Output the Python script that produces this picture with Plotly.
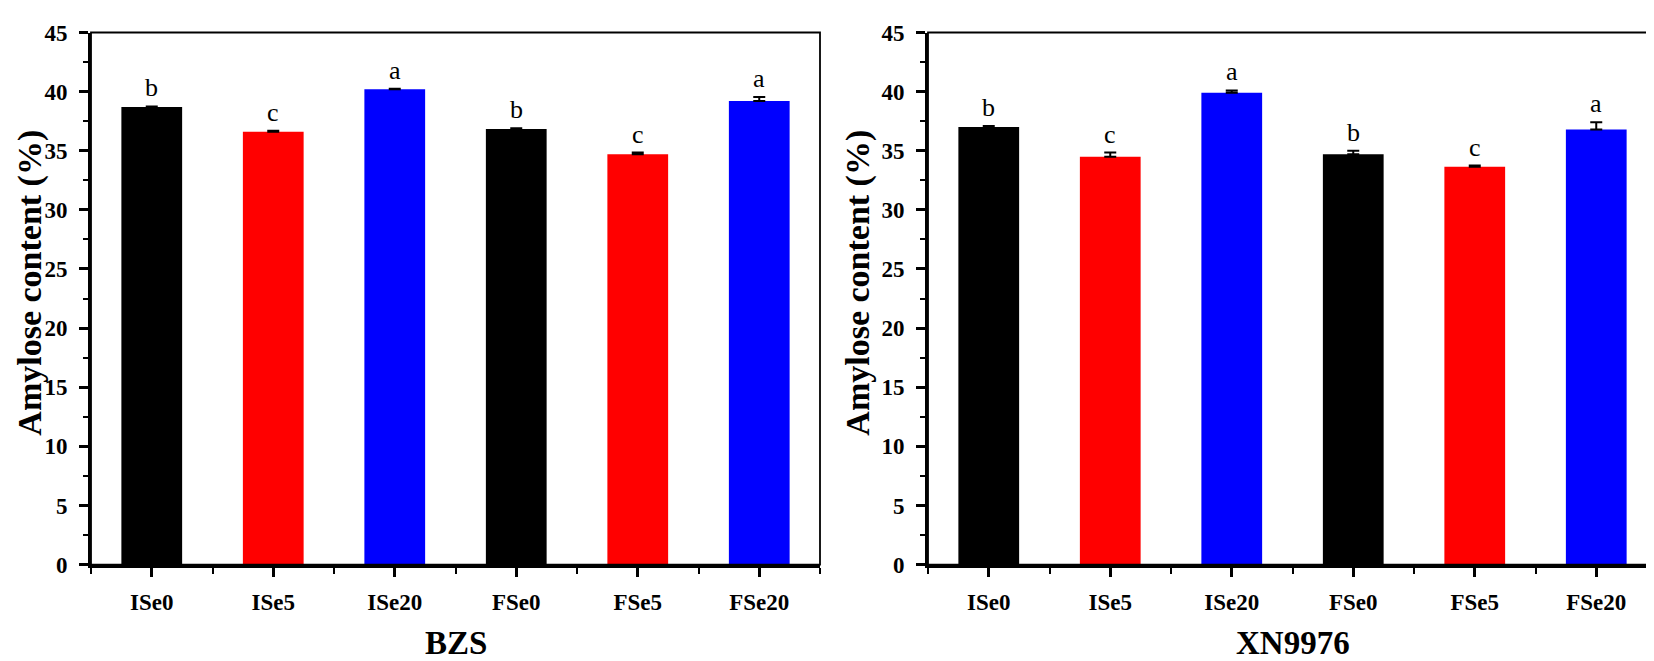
import plotly.graph_objects as go

categories = ["ISe0", "ISe5", "ISe20", "FSe0", "FSe5", "FSe20"]
bar_colors = ["#000000", "#ff0000", "#0000ff", "#000000", "#ff0000", "#0000ff"]

bzs_values = [38.7, 36.6, 40.2, 36.85, 34.7, 39.2]
bzs_errors = [0.05, 0.1, 0.05, 0.05, 0.15, 0.35]
bzs_letters = ["b", "c", "a", "b", "c", "a"]

xn_values = [37.0, 34.5, 39.9, 34.7, 33.65, 36.8]
xn_errors = [0.1, 0.35, 0.2, 0.3, 0.1, 0.6]
xn_letters = ["b", "c", "a", "b", "c", "a"]

y_ticks = [0, 5, 10, 15, 20, 25, 30, 35, 40, 45]
panel_titles = ["BZS", "XN9976"]
y_title = "Amylose content (%)"

W, H = 1654, 661
SERIF = "Liberation Serif, Times New Roman, serif"

panels = [
    dict(values=bzs_values, errors=bzs_errors, letters=bzs_letters,
         xdom=(83 / W, 812 / W), xa="x", ya="y", ytitle_x=22),
    dict(values=xn_values, errors=xn_errors, letters=xn_letters,
         xdom=(920 / W, 1649 / W), xa="x2", ya="y2", ytitle_x=850),
]
ydom = (1 - 566 / H, 1 - 13 / H)
xpos = list(range(len(categories)))

fig = go.Figure()
annotations = []
shapes = []
layout_axes = {}

for k, p in enumerate(panels):
    fig.add_trace(go.Bar(
        x=xpos, y=p["values"], xaxis=p["xa"], yaxis=p["ya"],
        marker=dict(color=bar_colors, line=dict(width=0)),
        error_y=dict(type="data", symmetric=False, array=p["errors"],
                     arrayminus=[0] * len(p["errors"]),
                     color="#000000", thickness=2, width=6),
        showlegend=False, hoverinfo="x+y",
    ))
    xname = "xaxis" if k == 0 else "xaxis2"
    yname = "yaxis" if k == 0 else "yaxis2"
    layout_axes[xname] = dict(
        domain=list(p["xdom"]), anchor=p["ya"], range=[-0.5, 5.5],
        tickmode="array", tickvals=xpos, ticktext=categories,
        ticks="outside", ticklen=9, tickwidth=2.5, tickcolor="#000000",
        showline=True, linewidth=3, linecolor="#000000",
        showgrid=False, zeroline=False, ticklabelstandoff=6,
        minor=dict(tickmode="linear", tick0=0.5, dtick=1, ticks="outside",
                   ticklen=6, tickwidth=2, tickcolor="#000000", showgrid=False),
        tickfont=dict(family=SERIF, size=23, color="#000000", weight="bold"),
    )
    layout_axes[yname] = dict(
        domain=list(ydom), anchor=p["xa"], range=[0, 45],
        tickmode="array", tickvals=y_ticks, ticktext=[str(v) for v in y_ticks],
        ticks="outside", ticklen=9, tickwidth=2.5, tickcolor="#000000",
        showline=True, linewidth=3, linecolor="#000000",
        showgrid=False, zeroline=False, ticklabelstandoff=7,
        minor=dict(tickmode="linear", tick0=0, dtick=2.5, ticks="outside",
                   ticklen=5, tickwidth=2, tickcolor="#000000", showgrid=False),
        tickfont=dict(family=SERIF, size=23, color="#000000", weight="bold"),
    )
    # thin frame (top/right)
    shapes.append(dict(type="rect", xref=p["xa"] + " domain", yref=p["ya"] + " domain",
                       x0=0, x1=1, y0=0, y1=1, line=dict(color="#000000", width=1.8),
                       fillcolor="rgba(0,0,0,0)", layer="above"))
    # significance letters
    for i, (v, e, t) in enumerate(zip(p["values"], p["errors"], p["letters"])):
        annotations.append(dict(
            x=xpos[i], y=v + e, xref=p["xa"], yref=p["ya"], text=t,
            showarrow=False, yanchor="bottom", yshift=2,
            font=dict(family=SERIF, size=26, color="#000000"),
        ))
    # y-axis title
    annotations.append(dict(
        x=p["ytitle_x"] / W, y=1 - 273 / H, xref="paper", yref="paper",
        text=y_title, textangle=-90, showarrow=False,
        xanchor="center", yanchor="middle",
        font=dict(family=SERIF, size=34, color="#000000", weight="bold"),
    ))
    # panel title
    annotations.append(dict(
        x=(p["xdom"][0] + p["xdom"][1]) / 2, y=1 - 647 / H, xref="paper", yref="paper",
        text=panel_titles[k], showarrow=False, xanchor="center", yanchor="middle",
        font=dict(family=SERIF, size=33, color="#000000", weight="bold"),
    ))

fig.update_layout(
    width=W, height=H, margin=dict(l=0, r=0, t=0, b=0),
    paper_bgcolor="#ffffff", plot_bgcolor="#ffffff",
    bargap=0.5, showlegend=False,
    annotations=annotations, shapes=shapes,
    **layout_axes,
)

fig.write_html("out.html")
